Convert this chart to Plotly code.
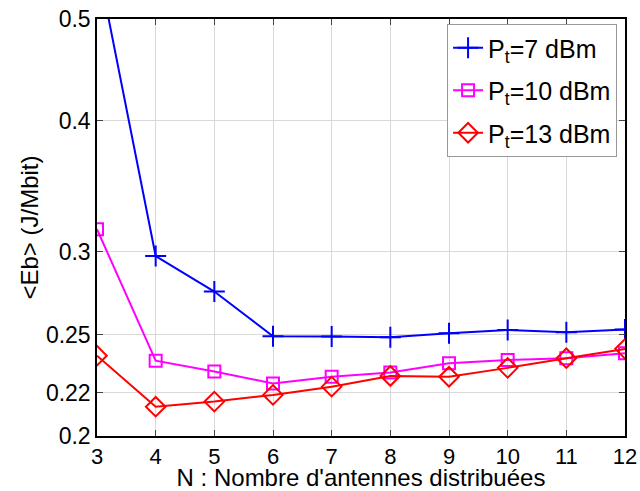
import plotly.graph_objects as go

N = [3, 4, 5, 6, 7, 8, 9, 10, 11, 12]
eb_7dbm = [0.569, 0.297, 0.2747, 0.249, 0.2489, 0.2485, 0.2506, 0.2525, 0.2512, 0.2528]
eb_10dbm = [0.315, 0.236, 0.2304, 0.2245, 0.2278, 0.2300, 0.2347, 0.2364, 0.2373, 0.2399]
eb_13dbm = [0.2386, 0.2133, 0.2157, 0.2189, 0.2229, 0.2282, 0.2278, 0.2323, 0.2373, 0.2422]
y_ticks = [0.2, 0.22, 0.25, 0.3, 0.4, 0.5]
y_labels = ["0.2", "0.22", "0.25", "0.3", "0.4", "0.5"]
x_ticks = N

font = "Liberation Sans, Arial, sans-serif"
fig = go.Figure()
fig.add_trace(go.Scatter(x=N, y=eb_7dbm, mode="lines+markers", name="P<sub>t</sub>=7 dBm",
                         legendgroup="a",
                         line=dict(color="#0000ff", width=2),
                         marker=dict(symbol="cross-thin", size=15, line=dict(color="#0000ff", width=2))))
fig.add_trace(go.Scatter(x=N, y=eb_10dbm, mode="lines+markers", name="P<sub>t</sub>=10 dBm",
                         legendgroup="b",
                         line=dict(color="#ff00ff", width=2),
                         marker=dict(symbol="square-open", size=12, color="#ff00ff", line=dict(width=2))))
fig.add_trace(go.Scatter(x=N, y=eb_13dbm, mode="lines+markers", name="P<sub>t</sub>=13 dBm",
                         legendgroup="c",
                         line=dict(color="#ff0000", width=2),
                         marker=dict(symbol="diamond-open", size=15, color="#ff0000", line=dict(width=2))))

fig.update_layout(
    width=640, height=491,
    margin=dict(l=97, r=15, t=19, b=55),
    paper_bgcolor="white", plot_bgcolor="white",
    font=dict(family=font, size=23, color="black"),
    showlegend=True,
    legend=dict(x=0.663, y=0.988, xanchor="left", yanchor="top",
                bgcolor="white", bordercolor="#999999", borderwidth=1,
                font=dict(size=25), tracegroupgap=7, itemwidth=30),
)
fig.update_xaxes(range=[3, 12], tickvals=x_ticks, ticks="inside", ticklen=6,
                 automargin=False, tickfont=dict(size=22),
                 showline=True, linecolor="black", linewidth=1.5, mirror="allticks",
                 showgrid=True, gridcolor="#d9d9d9", gridwidth=1, zeroline=False,
                 title=dict(text="N : Nombre d'antennes distribuées", standoff=3, font=dict(size=24)))
fig.update_yaxes(type="log", range=[-0.69897, -0.30103], tickvals=y_ticks, ticktext=y_labels,
                 ticks="inside", ticklen=6, automargin=False,
                 showline=True, linecolor="black", linewidth=1.5, mirror="allticks",
                 showgrid=True, gridcolor="#d9d9d9", gridwidth=1, zeroline=False,
                 title=dict(text="&lt;Eb&gt; (J/Mbit)", standoff=0, font=dict(size=24)))
fig.write_html("out.html", config={"displayModeBar": False},
               post_script="document.body.style.margin='0';document.body.style.overflow='hidden';")
